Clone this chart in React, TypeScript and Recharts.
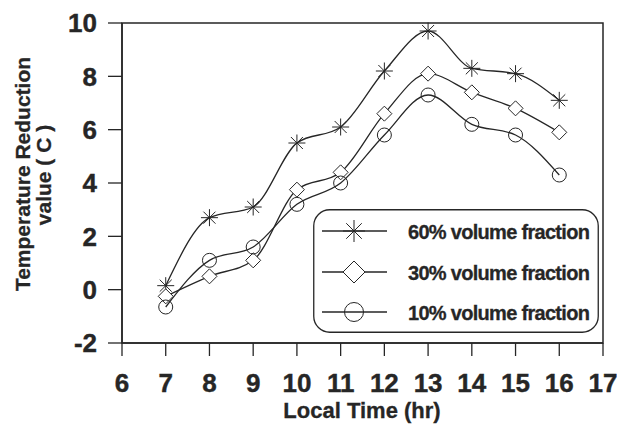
import React from 'react';
import { LineChart, Line, XAxis, YAxis, ReferenceArea, Legend } from 'recharts';

// hours on the x axis
const hours = [7, 8, 9, 10, 11, 12, 13, 14, 15, 16];
// temperature reduction (C) per volume fraction
const frac60 = [0.15, 2.7, 3.1, 5.5, 6.1, 8.2, 9.7, 8.3, 8.1, 7.1];
const frac30 = [-0.25, 0.5, 1.1, 3.75, 4.4, 6.6, 8.1, 7.4, 6.8, 5.9];
const frac10 = [-0.65, 1.1, 1.6, 3.2, 4.0, 5.8, 7.3, 6.2, 5.8, 4.3];

const xTicks = [6, 7, 8, 9, 10, 11, 12, 13, 14, 15, 16, 17];
const yTicks = [-2, 0, 2, 4, 6, 8, 10];
const seriesNames = ['60% volume fraction', '30% volume fraction', '10% volume fraction'];

const data = hours.map((h, i) => ({ hour: h, v60: frac60[i], v30: frac30[i], v10: frac10[i] }));

const INK = '#262626';
const FONT = '"Liberation Sans", Arial, Helvetica, sans-serif';

function Star({ cx, cy, r }: { cx: number; cy: number; r: number }) {
  const d = r * 0.7071;
  return (
    <g stroke={INK} strokeWidth={1}>
      <line x1={cx - r} y1={cy} x2={cx + r} y2={cy} />
      <line x1={cx} y1={cy - r} x2={cx} y2={cy + r} />
      <line x1={cx - d} y1={cy - d} x2={cx + d} y2={cy + d} />
      <line x1={cx - d} y1={cy + d} x2={cx + d} y2={cy - d} />
    </g>
  );
}

function Diamond({ cx, cy, r }: { cx: number; cy: number; r: number }) {
  return (
    <path
      d={`M${cx},${cy - r}L${cx + r},${cy}L${cx},${cy + r}L${cx - r},${cy}Z`}
      fill="#fff"
      stroke={INK}
      strokeWidth={1}
    />
  );
}

function Ring({ cx, cy, r }: { cx: number; cy: number; r: number }) {
  return <circle cx={cx} cy={cy} r={r} fill="none" stroke={INK} strokeWidth={1} />;
}

const markers = [Star, Diamond, Ring];
const plotSize = [8.5, 7.5, 7];
const legendSize = [11, 11, 9.5];

function makeDot(k: number) {
  const M = markers[k];
  return (p: any) => {
    if (p.cx == null || p.cy == null) return <g key={`d${k}-${p.index}`} />;
    return (
      <g key={`d${k}-${p.index}`}>
        <M cx={p.cx} cy={p.cy} r={plotSize[k]} />
      </g>
    );
  };
}

function LegendBox() {
  const rows = [22, 63, 103];
  return (
    <svg width={286} height={124} style={{ display: 'block' }}>
      <rect x={0.75} y={0.75} width={284.5} height={122.5} rx={16} ry={16} fill="#fff" stroke={INK} strokeWidth={1.3} />
      {seriesNames.map((name, k) => {
        const M = markers[k];
        const y = rows[k];
        return (
          <g key={name}>
            <line x1={9} y1={y} x2={74} y2={y} stroke={INK} strokeWidth={1.3} />
            <M cx={41} cy={y} r={legendSize[k]} />
            <text
              x={95}
              y={y + 7.5}
              fontFamily={FONT}
              fontWeight="bold"
              fontSize={20}
              letterSpacing={-0.7}
              fill={INK}
              stroke={INK}
              strokeWidth={0.3}
            >
              {name}
            </text>
          </g>
        );
      })}
    </svg>
  );
}

const tickStyle = { fontFamily: FONT, fontWeight: 'bold' as const, fontSize: 26, fill: INK, stroke: INK, strokeWidth: 0.4 };

export default function App() {
  return (
    <div style={{ position: 'absolute', left: 0, top: 0 }}>
      <LineChart width={617} height={425} data={data} margin={{ top: 23, right: 14, bottom: 0, left: 0 }}>
        <ReferenceArea x1={6} x2={17} y1={-2} y2={10} fill="none" stroke={INK} strokeWidth={1.5} ifOverflow="visible" />
        <XAxis
          dataKey="hour"
          type="number"
          domain={[6, 17]}
          ticks={xTicks}
          interval={0}
          height={82}
          tickSize={13}
          tickMargin={18}
          axisLine={{ stroke: INK, strokeWidth: 1.5 }}
          tickLine={{ stroke: INK, strokeWidth: 1.3 }}
          tick={tickStyle}
          label={{
            content: () => (
              <text x={362} y={418} textAnchor="middle" fontFamily={FONT} fontWeight="bold" fontSize={22} fill={INK} stroke={INK} strokeWidth={0.3}>
                Local Time (hr)
              </text>
            ),
          }}
        />
        <YAxis
          type="number"
          domain={[-2, 10]}
          ticks={yTicks}
          interval={0}
          width={122}
          tickSize={14}
          tickMargin={11}
          axisLine={{ stroke: INK, strokeWidth: 1.5 }}
          tickLine={{ stroke: INK, strokeWidth: 1.3 }}
          tick={tickStyle}
          label={{
            content: () => (
              <g fontFamily={FONT} fontWeight="bold" fontSize={21} fill={INK} stroke={INK} strokeWidth={0.3}>
                <text x={0} y={0} textAnchor="middle" transform="translate(30,174) rotate(-90)">
                  Temperature Reduction
                </text>
                <text x={0} y={0} textAnchor="middle" transform="translate(51,175) rotate(-90)">
                  value ( C )
                </text>
              </g>
            ),
          }}
        />
        <Legend
          layout="vertical"
          align="center"
          verticalAlign="middle"
          content={() => <LegendBox />}
          wrapperStyle={{ left: 313, top: 209, width: 286, height: 124 }}
        />
        <Line dataKey="v60" type="monotone" stroke={INK} strokeWidth={1.3} dot={makeDot(0)} activeDot={false} isAnimationActive={false} />
        <Line dataKey="v30" type="monotone" stroke={INK} strokeWidth={1.3} dot={makeDot(1)} activeDot={false} isAnimationActive={false} />
        <Line dataKey="v10" type="monotone" stroke={INK} strokeWidth={1.3} dot={makeDot(2)} activeDot={false} isAnimationActive={false} />
      </LineChart>
    </div>
  );
}
